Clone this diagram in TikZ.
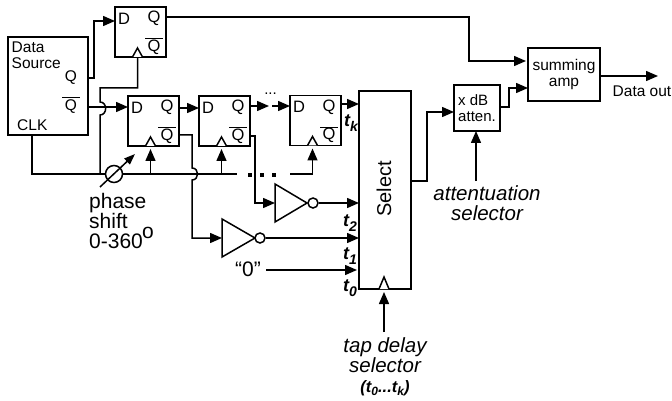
\documentclass[tikz,border=0pt]{standalone}
\usepackage{fontspec}
\setmainfont{Liberation Sans}
\usetikzlibrary{arrows.meta,calc}
\newcommand{\fs}[1]{\fontsize{#1}{#1}\selectfont}
\newcommand{\tlab}[1]{{\fs{18}\bfseries\itshape t}\raisebox{-5pt}{\fs{14}\bfseries\itshape #1}}
\tikzset{
  x=1pt,y=-1pt,
  wire/.style={line width=1.5pt,line join=miter},
  sig/.style={wire,-{Triangle[length=12pt,width=10pt]}},
  box/.style={draw,line width=1.5pt,fill=white,inner sep=0pt,outer sep=0pt,anchor=north west},
  pinlab/.style={inner sep=0pt,font=\fs{16.5}},
  txt/.style={inner sep=0pt,font=\fs{15.5},align=left},
  ital/.style={inner sep=0pt,font=\fs{20.5}\itshape,align=center},
  big/.style={inner sep=0pt,font=\fs{21},anchor=base west},
  tl/.style={inner sep=0pt},
  clk/.style={draw,line width=1.5pt,fill=white,line join=miter},
  inv/.style={draw,line width=1.5pt,fill=white,line join=miter},
  bub/.style={draw,circle,line width=1.5pt,fill=white,inner sep=0pt,minimum size=10pt},
  dotm/.style={fill=black,inner sep=0pt,minimum size=3.6pt}
}
% name, x, y (top-left)
\newcommand{\ffbox}[3]{%
  \node[box,minimum width=51pt,minimum height=50pt] (#1) at (#2,#3) {};
  \node[pinlab] (#1D) at ($(#1.north west)+(9,11.5)$) {D};
  \node[pinlab] (#1Q) at ($(#1.north west)+(39,11.5)$) {Q};
  \node[pinlab] (#1N) at ($(#1.north west)+(39,40)$) {Q};
  \draw[line width=1pt] ($(#1.north west)+(30,32)$) -- ($(#1.north west)+(48,32)$);
  \draw[clk] ($(#1.south west)+(17.5,0)$) -- ($(#1.south west)+(22.5,-9)$) -- ($(#1.south west)+(27.5,0)$);
  \coordinate (#1ck) at ($(#1.south west)+(22.5,3)$);
}
\begin{document}
\begin{tikzpicture}
\useasboundingbox (0,0) rectangle (672,401);
% blocks
\node[box,minimum width=80pt,minimum height=98pt] (ds) at (8,37) {};
\node[txt,anchor=west] (dslab) at (11.5,55) {Data\\[1pt]Source};
\node[pinlab,font=\fs{15.5}] (dsQ) at (71,78) {Q};
\node[pinlab,font=\fs{15.5}] (dsN) at (71,107) {Q};
\draw[line width=1pt] (62,98) -- (80,98);
\node[txt,anchor=west] (dsC) at (17,125) {CLK};
\ffbox{fa}{115}{7}
\ffbox{fb}{128}{96}
\ffbox{fc}{199}{96}
\ffbox{fd}{290}{95.5}
\node[box,minimum width=52pt,minimum height=198pt] (sel) at (359,91) {};
\node[inner sep=0pt,font=\fs{20},rotate=90] (sellab) at (384,189) {Select};
\draw[clk] (379,289) -- (384,277) -- (389,289);
\node[box,minimum width=46pt,minimum height=46pt] (att) at (454,85) {};
\node[txt,font=\fs{15}] (attlab) at (477,108) {x dB\\[0.5pt]atten.};
\node[box,minimum width=72pt,minimum height=53pt] (sum) at (528,48) {};
\node[txt,align=center] (sumlab) at (564,74.5) {summing\\[0.5pt]amp};
\node[txt] (out) at (642,91) {Data out};
% phase shifter and clock line
\coordinate (jn) at (100,174);
\coordinate (ckb) at (150.5,174);
\coordinate (ckc) at (221.5,174);
\coordinate (clkend) at (237,174);
\coordinate (clkres) at (290,174);
\coordinate (clkd) at (312.5,174);
\node[draw,circle,line width=1.5pt,fill=white,inner sep=0pt,minimum size=17pt] (ps) at (114,174) {};
\draw[wire] (32,135) |- (ps.west);
\draw[wire] (ps.east) -- (ckb) -- (ckc) -- (clkend);
\draw[sig] (ckb) -- (fbck);
\draw[sig] (ckc) -- (fcck);
\draw[wire] (clkres) -- (clkd);
\draw[sig] (clkd) -- (fdck);
\node[dotm] (d1) at (250,175) {};
\node[dotm] (d2) at (262,175) {};
\node[dotm] (d3) at (274,175) {};
\coordinate (pst) at (100,187);
\coordinate (psh) at (135,154);
\draw[wire,-{Triangle[length=11pt,width=8pt]}] (pst) -- (psh);
% data source outputs
\draw[sig] (88,78) -- (94,78) -- (94,21) -- (115,21);
\draw[sig] (88,107) -- (128,107);
\draw[wire] (jn) -- (100,115) .. controls (107.5,115) and (107.5,102) .. (100,102) -- (100,88) -- (137.5,88) -- (137.5,58);
% shift chain
\draw[sig] (fb.east |- 0,108) -- (fc.west |- 0,108);
\draw[sig] (fc.east |- 0,106) -- (269,106);
\draw[sig] (272,106) -- (fd.west |- 0,106);
\node[inner sep=0pt,font=\fs{15}] (cdots) at (270.5,94) {...};
\draw[sig] (fd.east |- 0,104) -- (sel.west |- 0,104);
% taps
\coordinate (ia) at (222,238);
\coordinate (ib) at (275,203);
\draw[inv] (222,219) -- (255,238) -- (222,257) -- cycle;
\draw[inv] (275,184) -- (307,203) -- (275,222) -- cycle;
\node[bub] (ba) at (260,238) {};
\node[bub] (bb) at (313,203) {};
\draw[sig] (fb.east |- 0,135) -- (192,135) -- (192,168) .. controls (199.5,168) and (199.5,180) .. (192,180) -- (192,238) -- (ia);
\draw[sig] (fc.east |- 0,136) -- (255,136) -- (255,203) -- (ib);
\draw[sig] (ba.east) -- (sel.west |- ba);
\draw[sig] (bb.east) -- (sel.west |- bb);
\node[inner sep=0pt,font=\fs{21}] (zero) at (248,269) {“0”};
\draw[sig] (266,270) -- (357,270);
\node[tl] (tk) at (351,123) {\tlab{k}};
\node[tl] (t2) at (350,223) {\tlab{2}};
\node[tl] (t1) at (350,256) {\tlab{1}};
\node[tl] (t0) at (350,288) {\tlab{0}};
% output side
\draw[sig] (fa.east |- 0,17) -- (469,17) -- (469,61) -- (526,61);
\draw[sig] (sel.east |- 0,181) -- (427,181) -- (427,112) -- (att.west |- 0,112);
\draw[sig] (att.east |- 0,107) -- (509,107) -- (509,88) -- (sum.west |- 0,88);
\coordinate (outend) at (658,76);
\draw[sig] (sum.east |- outend) -- (outend);
% selector labels
\node[ital] (atsel) at (487,203) {attentuation\\[0pt]selector};
\draw[sig] (476,181) -- (att.south -| 476,0);
\node[ital] (tapsel) at (385,355) {tap delay\\[0pt]selector};
\node[inner sep=0pt,font=\fs{16.5}\bfseries\itshape] (tapr) at (385,388) {(t\raisebox{-3pt}{\fs{12}0}...t\raisebox{-3pt}{\fs{12}k})};
\draw[sig] (384,332) -- (384,292);
% phase label
\node[big] (p1) at (89,208) {phase};
\node[big] (p2) at (89,228) {shift};
\node[big] (p3) at (89,248) {0-360};
\node[inner sep=0pt,font=\fs{21}] (deg) at (148,233) {o};
\end{tikzpicture}
\end{document}
